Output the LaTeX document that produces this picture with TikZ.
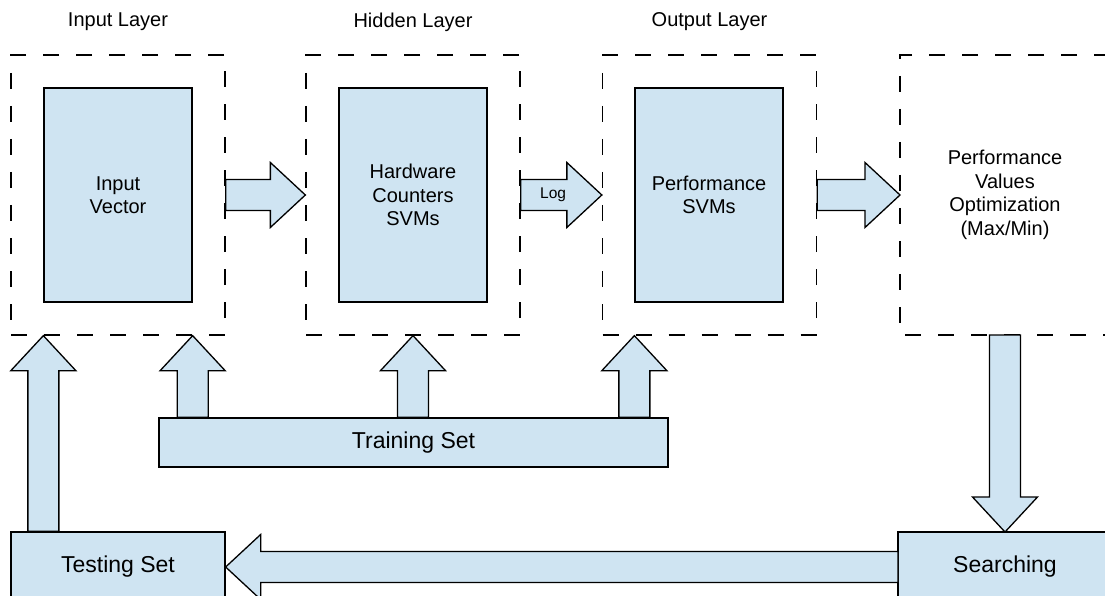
\documentclass[tikz,border=0pt]{standalone}
\usepackage{fontspec}
\setmainfont{Liberation Sans}
\usetikzlibrary{calc, positioning}
\definecolor{boxfill}{RGB}{207,228,242}

\begin{document}
\begin{tikzpicture}[x=1pt, y=-1pt, line width=1.3pt, font=\fontsize{20}{23.5}\selectfont,
		dashes/.style={dash pattern=on 16pt off 17pt},
		layer/.style={draw, dashes, minimum width=214pt, minimum height=280pt, inner sep=0pt, align=center},
		svm/.style={draw, fill=boxfill, minimum width=148pt, minimum height=214pt, inner sep=0pt, align=center},
		dataset/.style={draw, fill=boxfill, inner sep=0pt, font=\fontsize{23}{27}\selectfont},
		blockarrow/.style={draw, fill=boxfill, line join=miter,
			to path={let \p1=(\tikztostart), \p2=(\tikztotarget), \p3=($(\p2)!35pt!(\p1)$) in
				($(\p1)!15.5pt!90:(\p2)$) -- ($(\p3)!15.5pt!90:(\p2)$) -- ($(\p3)!32.5pt!90:(\p2)$) -- (\p2)
				-- ($(\p3)!32.5pt!-90:(\p2)$) -- ($(\p3)!15.5pt!-90:(\p2)$) -- ($(\p1)!15.5pt!-90:(\p2)$) -- cycle}}]
			\useasboundingbox (0,0) rectangle (1105,596);
			\clip (0,0) rectangle (1105,596);
			
			% Layers
			\node[layer] (inL) at (118,195) {};
			\node[layer] (hidL) at (413,195) {};
			\node[layer] (outL) at (709.5,195) {};
			% right side runs off the page, so no closing edge
			\node[layer, draw=none, outer sep=0pt, minimum width=210pt] (optL) at (1005,195) {Performance\\Values\\Optimization\\(Max/Min)};
			\draw[dashes] (optL.north east) -- (optL.north west) -- (optL.south west) -- (optL.south east);
			\node (inlbl) at (118,22) {Input Layer};
			\node (hidlbl) at (413,22) {Hidden Layer};
			\node (outlbl) at (709.5,22) {Output Layer};
			
			% SVM blocks
			\node[svm] (invec) at (118,195) {Input\\Vector};
			\node[svm] (hwsvm) at (413,195) {Hardware\\Counters\\SVMs};
			\node[svm] (perfsvm) at (709,195) {Performance\\SVMs};
			
			% Data sets
			\node[dataset, minimum width=509pt, minimum height=49pt] (trn) at (413.5,442.5) {Training Set};
			\node[dataset, minimum width=214pt, minimum height=70pt] (tst) at (118,567) {Testing Set};
			\node[dataset, draw=none, outer sep=0pt, minimum width=214pt, minimum height=70pt] (srch) at (1005,567) {Searching};
			\draw (srch.north east) -- (srch.north west) -- (srch.south west) -- (srch.south east);
			
			% Forward arrows
			\draw[blockarrow] (inL.east) to (hidL.west);
			\draw[blockarrow] (hidL.east) to (outL.west);
			\draw[blockarrow] (outL.east) to (optL.west);
			\node[font=\fontsize{15.5}{18}\selectfont] (loglbl) at ($(hidL.east)!0.4!(outL.west)$) {Log};
			
			% Training arrows
			\draw[blockarrow] (invec.east |- trn.north) to (invec.east |- inL.south);
			\draw[blockarrow] (hwsvm.center |- trn.north) to (hwsvm.center |- hidL.south);
			\draw[blockarrow] (perfsvm.west |- trn.north) to (perfsvm.west |- outL.south);
			
			% Search loop
			\draw[blockarrow] (optL.south) to (srch.north);
			\draw[blockarrow] (srch.west) to (tst.east);
			\draw[blockarrow] (invec.west |- tst.north) to (invec.west |- inL.south);
		\end{tikzpicture}
\end{document}
